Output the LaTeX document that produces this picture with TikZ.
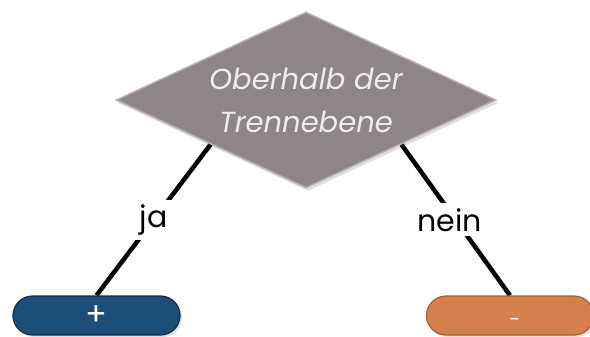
\documentclass[tikz,border=0pt]{standalone}
\usepackage{fontspec}
\setmainfont{Poppins}
\usetikzlibrary{shapes.geometric,backgrounds,shadows}
\definecolor{diagray}{HTML}{8E8686}
\definecolor{diaedge}{HTML}{B8B2B2}
\definecolor{pillblue}{HTML}{1B4E78}
\definecolor{pillorange}{HTML}{D5804A}
\definecolor{diatext}{HTML}{EDEDED}
\tikzset{
  decision/.style={diamond, aspect=2.16, minimum width=380pt, minimum height=176pt,
    inner sep=0pt, fill=diagray, draw=diaedge, line width=1.5pt,
    drop shadow={opacity=0.25, shadow xshift=2pt, shadow yshift=-3pt},
    text=diatext, font=\fontsize{29}{45}\selectfont\itshape, align=center},
  pill/.style={rectangle, rounded corners=19.5pt, minimum width=167pt, minimum height=39pt,
    inner sep=0pt, text=white, line width=1.2pt,
    drop shadow={opacity=0.25, shadow xshift=2pt, shadow yshift=-2pt}},
  conn/.style={line width=4.5pt, black},
  branch/.style={fill=white, inner sep=5pt, text=black, font=\fontsize{30}{30}\selectfont}
}
\begin{document}
\begin{tikzpicture}[x=1pt,y=-1pt]
\useasboundingbox (0,0) rectangle (590,337);
\node[decision] (d) at (306,100) {\raisebox{-2pt}{Oberhalb der}\\ Trennebene};
\node[pill, fill=pillblue, draw=pillblue!60!black, font=\fontsize{32}{32}\selectfont] (p1) at (96.5,315.5) {+};
\node[pill, fill=pillorange, draw=pillorange!75!black, font=\fontsize{20}{20}\selectfont] (p2) at (510,315.5) {\hspace{10pt}\raisebox{-11pt}[0pt][0pt]{-}};
\begin{scope}[on background layer]
\draw[conn] (p1.north) -- node[branch, pos=0.5] (ja) {ja} (d.south west);
\draw[conn] (p2.north) -- node[branch, pos=0.5, xshift=-6pt] (nein) {nein} (d.south east);
\end{scope}
\end{tikzpicture}
\end{document}
